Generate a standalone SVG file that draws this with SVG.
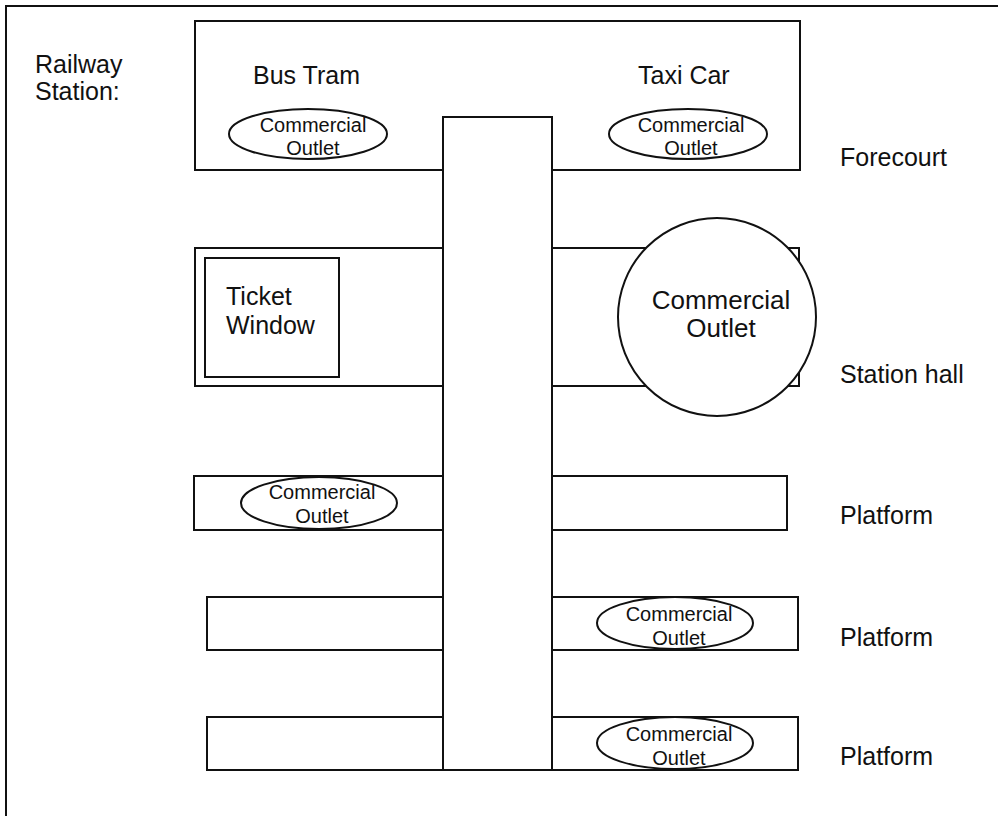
<svg xmlns="http://www.w3.org/2000/svg" width="998" height="816" viewBox="0 0 998 816">
<style>
  .ln{fill:none;stroke:#111;stroke-width:2}
  .bx{fill:#fff;stroke:#111;stroke-width:2}
  .t{font-family:"Liberation Sans",Arial,sans-serif;font-size:25px;fill:#111}
  .s{font-family:"Liberation Sans",Arial,sans-serif;font-size:20px;fill:#111;text-anchor:middle}
  .c{font-family:"Liberation Sans",Arial,sans-serif;font-size:26px;fill:#111;text-anchor:middle}
</style>
<rect width="998" height="816" fill="#fff"/>
<g id="frame">
  <path class="ln" d="M6,816 V6 H998"/>
  <text class="t" x="35" y="73">Railway</text>
  <text class="t" x="35" y="100">Station:</text>
</g>
<g id="forecourt">
  <rect class="bx" x="195" y="21" width="605" height="149"/>
  <text class="t" x="253" y="84">Bus Tram</text>
  <text class="t" x="638" y="84">Taxi Car</text>
  <text class="t" x="840" y="166">Forecourt</text>
</g>
<g id="outlet-forecourt-left">
  <ellipse class="bx" cx="308" cy="134" rx="79" ry="25"/>
  <text class="s" x="313" y="132">Commercial</text>
  <text class="s" x="313" y="155">Outlet</text>
</g>
<g id="outlet-forecourt-right">
  <ellipse class="bx" cx="688" cy="134" rx="79" ry="25"/>
  <text class="s" x="691" y="132">Commercial</text>
  <text class="s" x="691" y="155">Outlet</text>
</g>
<g id="station-hall">
  <rect class="bx" x="195" y="248" width="604" height="138"/>
  <text class="t" x="840" y="383">Station hall</text>
</g>
<g id="ticket-window">
  <rect class="bx" x="205" y="258" width="134" height="119"/>
  <text class="t" x="226" y="305">Ticket</text>
  <text class="t" x="226" y="334">Window</text>
</g>
<g id="platform-1">
  <rect class="bx" x="194" y="476" width="249" height="54"/>
  <rect class="bx" x="552" y="476" width="235" height="54"/>
  <text class="t" x="840" y="524">Platform</text>
</g>
<g id="platform-2">
  <rect class="bx" x="207" y="597" width="236" height="53"/>
  <rect class="bx" x="552" y="597" width="246" height="53"/>
  <text class="t" x="840" y="646">Platform</text>
</g>
<g id="platform-3">
  <rect class="bx" x="207" y="717" width="236" height="53"/>
  <rect class="bx" x="552" y="717" width="246" height="53"/>
  <text class="t" x="840" y="765">Platform</text>
</g>
<g id="corridor">
  <rect class="bx" x="443" y="117" width="109" height="653"/>
</g>
<g id="outlet-hall">
  <circle class="bx" cx="717" cy="317" r="99"/>
  <text class="c" x="721" y="309">Commercial</text>
  <text class="c" x="721" y="337">Outlet</text>
</g>
<g id="outlet-platform-1">
  <ellipse class="bx" cx="319" cy="503" rx="78" ry="26"/>
  <text class="s" x="322" y="499">Commercial</text>
  <text class="s" x="322" y="523">Outlet</text>
</g>
<g id="outlet-platform-2">
  <ellipse class="bx" cx="675" cy="623" rx="78" ry="26"/>
  <text class="s" x="679" y="621">Commercial</text>
  <text class="s" x="679" y="645">Outlet</text>
</g>
<g id="outlet-platform-3">
  <ellipse class="bx" cx="675" cy="743" rx="78" ry="26"/>
  <text class="s" x="679" y="741">Commercial</text>
  <text class="s" x="679" y="765">Outlet</text>
</g>
<g id="connectors"></g>
</svg>
